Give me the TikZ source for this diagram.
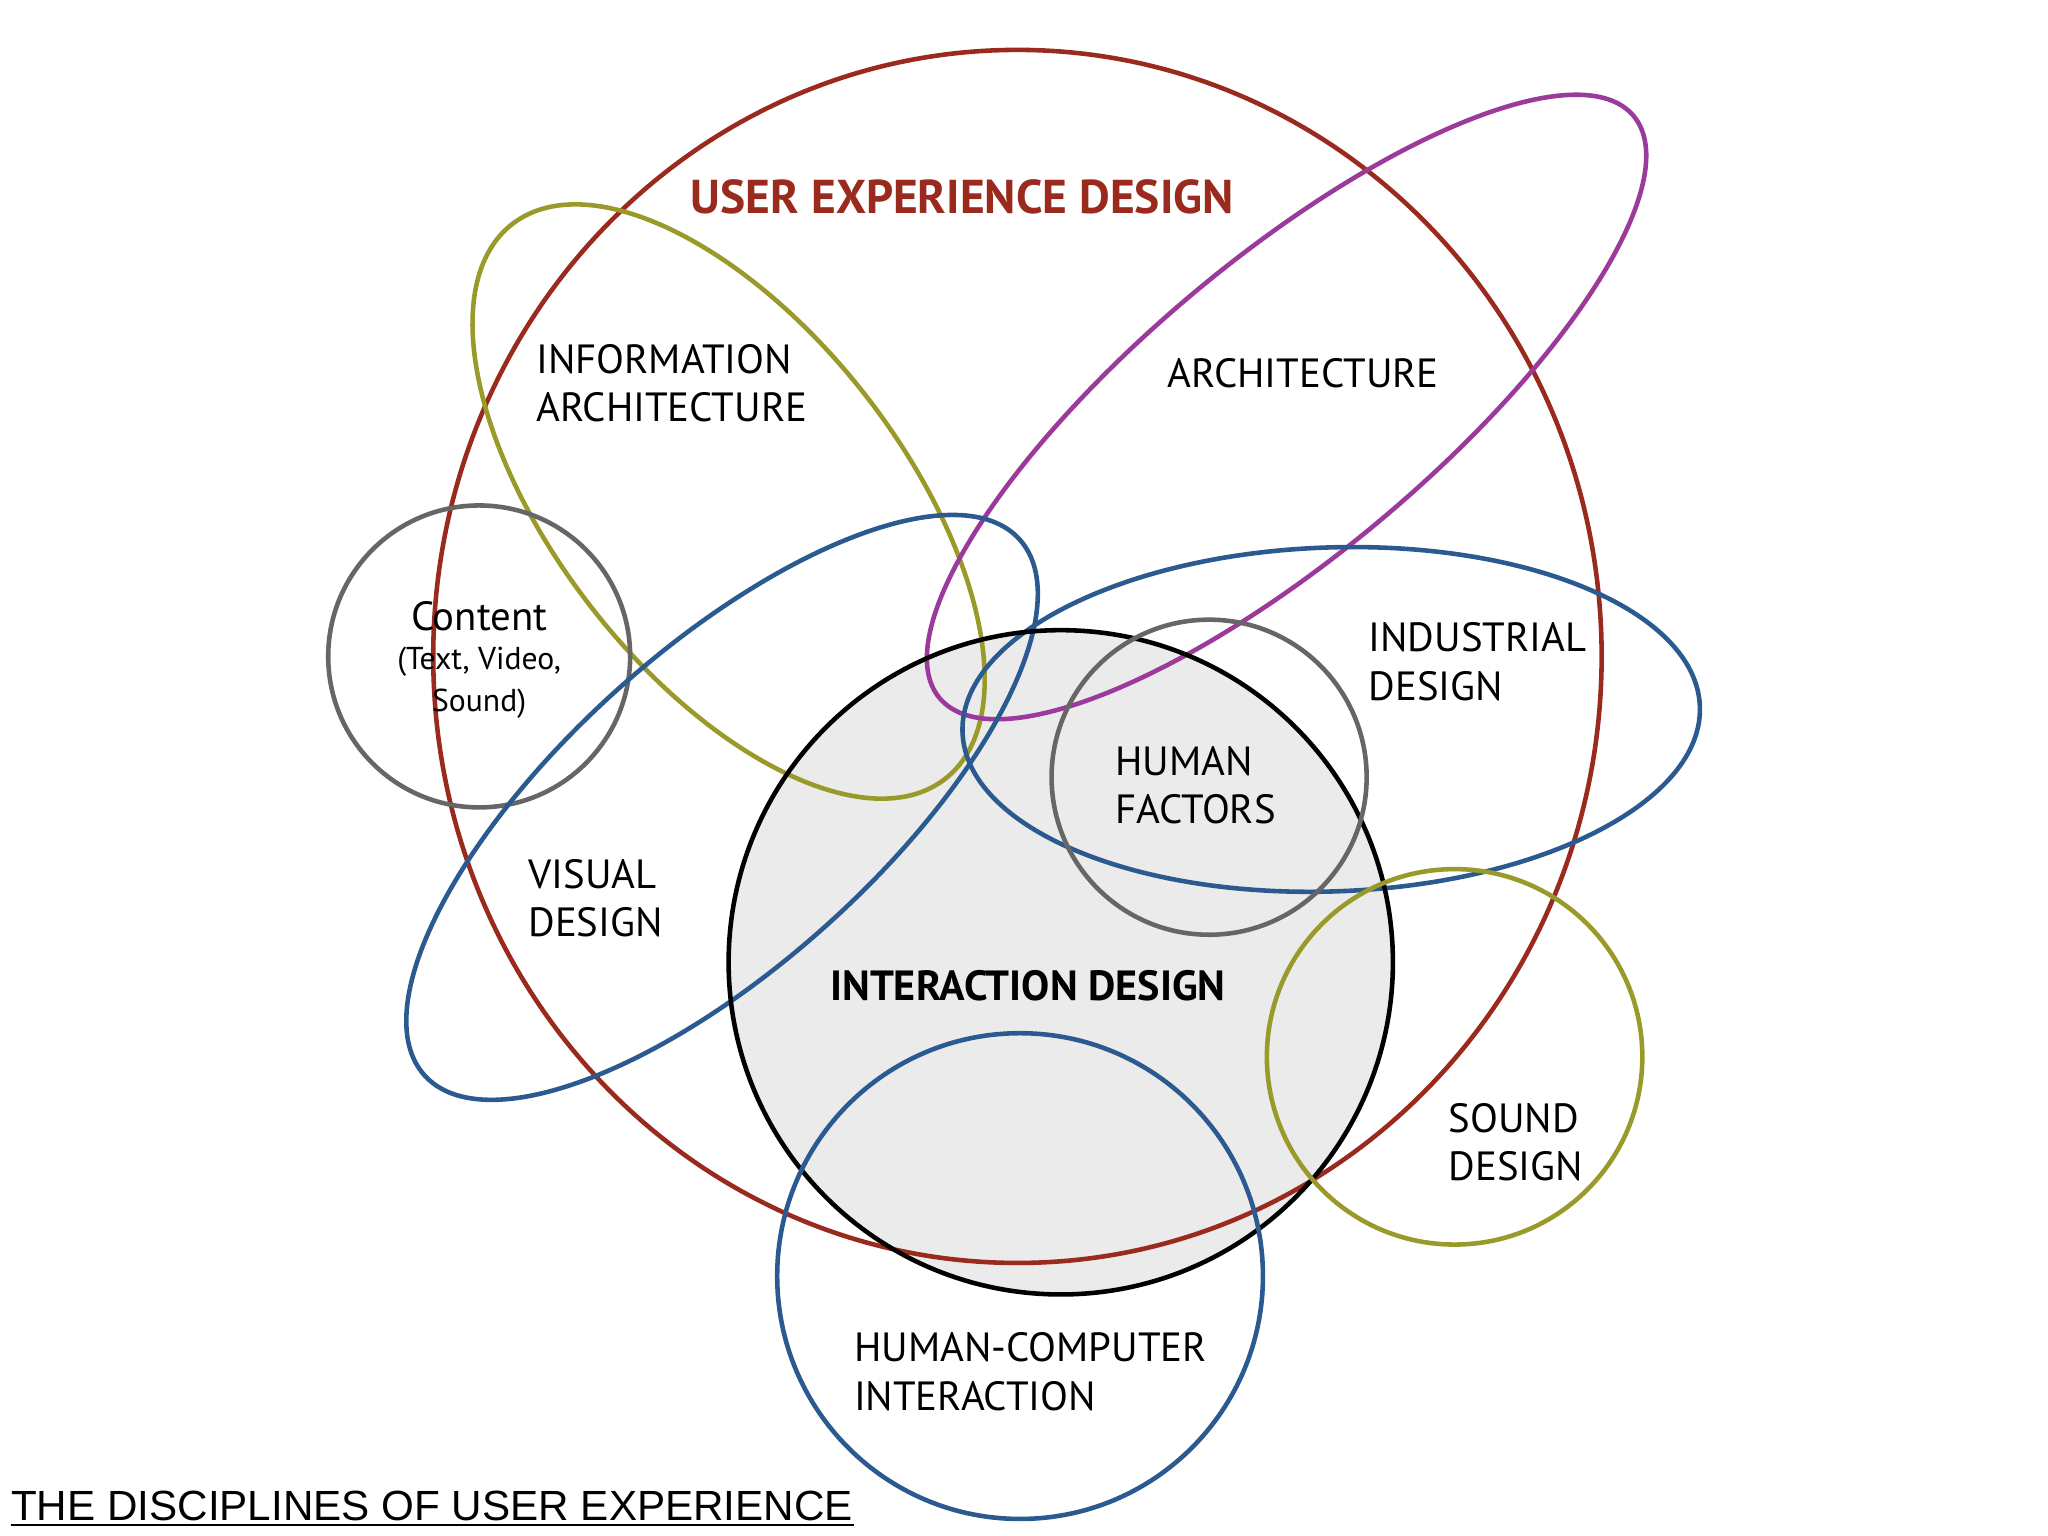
\documentclass[tikz,border=0pt]{standalone}
\usepackage{fontspec}
\setmainfont{PT Sans}
\newfontfamily\capfont{Liberation Sans}
\definecolor{uxred}{HTML}{9A2A1E}
\definecolor{olive}{HTML}{9A9A2A}
\definecolor{purp}{HTML}{9B3A9B}
\definecolor{blu}{HTML}{2A5A8F}
\definecolor{gry}{HTML}{666666}
\definecolor{fillg}{HTML}{EBEBEB}
\begin{document}
\begin{tikzpicture}[x=0.013128cm,y=-0.013128cm,
  lbl/.style={font=\fontsize{11.6}{13.8}\selectfont,align=left,anchor=west,inner sep=0pt},
  ring/.style={line width=1.3pt}]
\path[use as bounding box] (0,0) rectangle (1560,1170);
\fill[white] (0,0) rectangle (1560,1170);
\fill[fillg] (808,733) circle (253);
\draw[ring,uxred] (775,500) ellipse [x radius=445,y radius=462];
\draw[ring,olive] (555,382) [rotate around={-52:(555,382)}] ellipse [x radius=268,y radius=132];
\draw[ring,purp] (980,310) [rotate around={40:(980,310)}] ellipse [x radius=345,y radius=112];
\draw[ring,gry] (365,500) circle (115);
\draw[ring,blu] (550,615) [rotate around={42:(550,615)}] ellipse [x radius=305,y radius=120];
\draw[ring,blu] (1014,548) [rotate around={2:(1014,548)}] ellipse [x radius=281,y radius=131];
\draw[ring,black] (808,733) circle (253);
\draw[ring,gry] (921,592) circle (120);
\draw[ring,olive] (1108,805) circle (143);
\draw[ring,blu] (777,972) circle (185);
\node[inner sep=0pt,text=uxred,font=\fontsize{13.5}{16}\selectfont\bfseries] (ux) at (733,150) {USER EXPERIENCE DESIGN};
\node[lbl] (ia) at (408,292) {INFORMATION\\ARCHITECTURE};
\node[lbl] (arch) at (889,284) {ARCHITECTURE};
\node[align=center,inner sep=0pt] (cont) at (365,503) {{\fontsize{11.6}{13.8}\selectfont Content}\\[-1pt]{\fontsize{9}{10.5}\selectfont (Text, Video,}\\{\fontsize{9}{10.5}\selectfont Sound)}};
\node[lbl] (ind) at (1042,504) {INDUSTRIAL\\DESIGN};
\node[lbl] (hf) at (849,598) {HUMAN\\FACTORS};
\node[lbl] (vd) at (402,684) {VISUAL\\DESIGN};
\node[inner sep=0pt,font=\fontsize{12}{15}\selectfont\bfseries] (ixd) at (783,751) {INTERACTION DESIGN};
\node[lbl] (sd) at (1103,870) {SOUND\\DESIGN};
\node[lbl] (hci) at (650,1045) {HUMAN-COMPUTER\\INTERACTION};
\node[anchor=west,inner sep=0pt,font=\capfont\fontsize{12}{15}\selectfont] (cap) at (8,1147) {THE DISCIPLINES OF USER EXPERIENCE};
\draw[line width=0.6pt] (cap.south west)++(0,3) -- ([yshift=-3*0.013128cm]cap.south east);
\end{tikzpicture}
\end{document}
